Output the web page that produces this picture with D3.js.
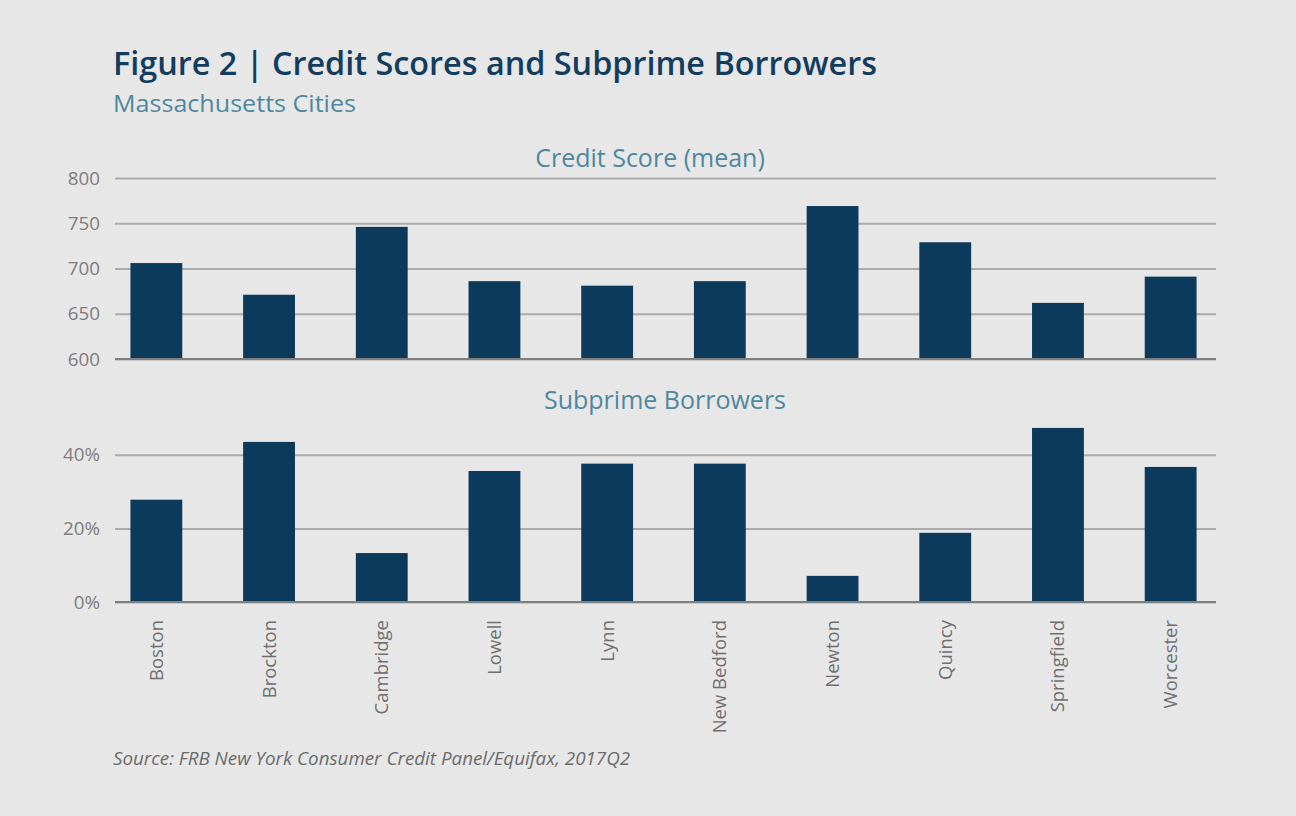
<!DOCTYPE html>
<html><head><meta charset="utf-8">
<script src="https://cdn.jsdelivr.net/npm/d3@7"></script>
<style>
html,body{margin:0;padding:0;background:#e7e7e7;}
svg{display:block;font-family:"Open Sans",sans-serif;}
</style></head>
<body>
<svg id="c" width="1296" height="816"></svg>
<script>
const cities = ["Boston","Brockton","Cambridge","Lowell","Lynn","New Bedford","Newton","Quincy","Springfield","Worcester"];
const creditScore = [706,671,746,686,681,686,769,729,662,691];
const subprimeShare = [0.278,0.435,0.133,0.356,0.376,0.376,0.071,0.188,0.473,0.367];
const scoreTicks = [600,650,700,750,800];
const shareTicks = [0,0.2,0.4];

const svg = d3.select("#c");
svg.append("rect").attr("width",1296).attr("height",816).attr("fill","#e7e7e7");

const barColor = "#0b3a5c", gridColor = "#ababab", baseColor = "#7f7f7f";
const gridL = 115, gridR = 1216;

const x = d3.scaleBand().domain(cities).range([100,1227]).paddingInner(0.54).paddingOuter(0.27);

// Titles
svg.append("text").attr("x",113).attr("y",75).text("Figure 2 | Credit Scores and Subprime Borrowers")
  .attr("font-size",32).attr("font-weight",600).attr("fill","#123d5e")
  .attr("textLength",764).attr("lengthAdjust","spacingAndGlyphs");
svg.append("text").attr("x",113).attr("y",112).text("Massachusetts Cities")
  .attr("font-size",23).attr("fill","#4f87a0")
  .attr("textLength",243).attr("lengthAdjust","spacingAndGlyphs");

function panel(values, domain, ticks, yTop, yBot, title, titleX, titleY, fmt){
  const y = d3.scaleLinear().domain(domain).range([yBot,yTop]);
  const g = svg.append("g");
  const ax = d3.axisLeft(y).tickValues(ticks).tickSize(-(gridR-gridL)).tickPadding(15).tickFormat(fmt);
  const axg = g.append("g").attr("transform",`translate(${gridL},0)`).call(ax);
  axg.select(".domain").remove();
  axg.selectAll(".tick line").attr("stroke",gridColor).attr("stroke-width",2);
  axg.selectAll(".tick text").attr("fill","#7d7d7d").attr("font-size",18.8).attr("font-family","Open Sans");
  g.selectAll("rect.bar").data(values).join("rect").attr("class","bar")
    .attr("x",(d,i)=>x(cities[i])).attr("width",x.bandwidth())
    .attr("y",d=>y(d)).attr("height",d=>y(domain[0])-y(d)).attr("fill",barColor);
  g.append("line").attr("x1",gridL).attr("x2",gridR).attr("y1",y(domain[0])).attr("y2",y(domain[0]))
    .attr("stroke",baseColor).attr("stroke-width",2);
  svg.append("text").attr("x",titleX).attr("y",titleY).attr("text-anchor","middle")
    .attr("font-size",25).attr("fill","#4f87a0").text(title);
  return y;
}

panel(creditScore,[600,800],scoreTicks,178,359,"Credit Score (mean)",650,167,d3.format("d"));
panel(subprimeShare,[0,0.5],shareTicks,418,602,"Subprime Borrowers",665,409,d3.format(".0%"));

// Category labels
const xa = svg.append("g").attr("transform","translate(0,602)")
  .call(d3.axisBottom(x).tickSize(0).tickPadding(0));
xa.select(".domain").remove();
xa.selectAll(".tick text").attr("transform","rotate(-90)").attr("text-anchor","end")
  .attr("x",-18).attr("y",0).attr("dy","0.35em")
  .attr("font-size",18.5).attr("fill","#6f6f6f").attr("font-family","Open Sans");

svg.append("text").attr("x",113).attr("y",765).attr("font-style","italic").attr("font-size",18.8)
  .attr("fill","#6b6b6b").text("Source: FRB New York Consumer Credit Panel/Equifax, 2017Q2");
</script>
</body></html>
